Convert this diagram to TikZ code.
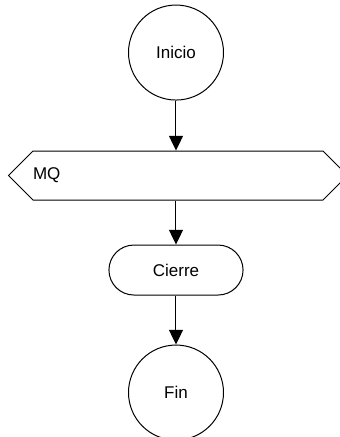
\documentclass[tikz,border=0pt]{standalone}
\usepackage{fontspec}
\setmainfont{Liberation Sans}
\usepackage{tikz}
\usetikzlibrary{arrows.meta, positioning, shapes.symbols, shapes.misc}
\tikzset{
    termcircle/.style={
        circle,
        draw=black,
        line width=0.75pt,
        minimum size=71.25pt,
        inner sep=0pt,
        font=\fontsize{12.75}{15}\selectfont
    },
    loopbox/.style={
        signal,
        signal to=west and east,
        signal pointer angle=90,
        draw=black,
        line width=0.75pt,
        minimum height=36.75pt,
        text width=217.5pt,
        inner xsep=0pt,
        align=left,
        font=\fontsize{12.75}{15}\selectfont
    },
    procbox/.style={
        rounded rectangle,
        draw=black,
        line width=0.75pt,
        minimum width=107.25pt,
        minimum height=37.5pt,
        font=\fontsize{12.75}{15}\selectfont
    },
    flowarrow/.style={-{Triangle[length=11pt,width=10.5pt]}, line width=0.75pt, draw=black}
}

\begin{document}
\begin{tikzpicture}
        \useasboundingbox (0,0) rectangle (255pt,-327.75pt);
        \node[termcircle] (inicio) at (132pt,-39.4pt) {Inicio};
        \node[loopbox, below=37.5pt of inicio, xshift=1.5pt] (mq) {MQ};
        \node[procbox, below=33pt of mq, xshift=-1.5pt] (cierre) {Cierre};
        \node[termcircle, below=36.75pt of cierre] (fin) {Fin};
        \draw[flowarrow] (inicio.south) -- (inicio.south |- mq.north);
        \draw[flowarrow] (mq.south -| cierre.north) -- (cierre.north);
        \draw[flowarrow] (cierre.south) -- (fin.north);
    \end{tikzpicture}
\end{document}
